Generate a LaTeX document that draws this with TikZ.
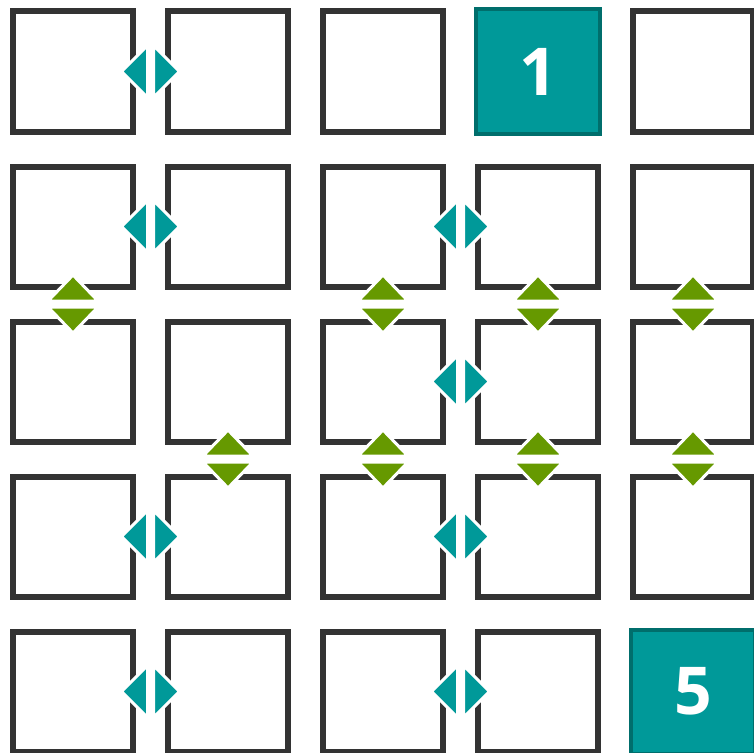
\documentclass[tikz,border=0pt]{standalone}
\usepackage{fontspec}
\newfontfamily\numfont{Open Sans}
\usetikzlibrary{calc}
\definecolor{boxgray}{HTML}{333333}
\definecolor{tealfill}{HTML}{009999}
\definecolor{tealdark}{HTML}{006E6C}
\definecolor{greenarrow}{HTML}{669900}
\tikzset{
  box/.style={draw=boxgray,line width=6pt,minimum size=120pt,inner sep=0pt,fill=white},
  numbox/.style={draw=tealdark,fill=tealfill,line width=4pt,minimum size=124pt,inner sep=0pt,
    text=white,font=\numfont\bfseries\fontsize{66}{66}\selectfont},
  harr/.style={fill=tealfill,draw=white,line width=3pt,line join=miter},
  varr/.style={fill=greenarrow,draw=white,line width=3pt,line join=miter}
}
\newcommand\hpair[2]{%
  \path (#1.east) -- (#2.west) coordinate[midway] (h#1#2);
  \filldraw[harr] ($(h#1#2)+(-3,-26)$) -- ($(h#1#2)+(-3,26)$) -- ($(h#1#2)+(-29,0)$) -- cycle;
  \filldraw[harr] ($(h#1#2)+(3,-26)$) -- ($(h#1#2)+(3,26)$) -- ($(h#1#2)+(29,0)$) -- cycle;
}
\newcommand\vpair[2]{%
  \path (#1.south) -- (#2.north) coordinate[midway] (v#1#2);
  \filldraw[varr] ($(v#1#2)+(-25,-3)$) -- ($(v#1#2)+(25,-3)$) -- ($(v#1#2)+(0,-29)$) -- cycle;
  \filldraw[varr] ($(v#1#2)+(-25,3)$) -- ($(v#1#2)+(25,3)$) -- ($(v#1#2)+(0,29)$) -- cycle;
}
\begin{document}
\begin{tikzpicture}[x=1pt,y=-1pt]
\useasboundingbox (0,0) rectangle (754,752);
\begin{scope}
\clip (0,0) rectangle (754,752);
\foreach \r in {0,...,4}{
  \foreach \c in {0,...,4}{
    \ifnum\r\c=3 \else\ifnum\r\c=44 \else
      \node[box] (b\r\c) at ({73+155*\c},{71.5+155*\r}) {};
    \fi\fi
  }
}
\node[numbox] (b03) at ({73+155*3},{71.5}) {1};
\node[numbox] (b44) at ({73+155*4},{71.5+155*4}) {5};
\end{scope}
% horizontal (teal) pairs
\hpair{b00}{b01}
\hpair{b10}{b11}
\hpair{b12}{b13}
\hpair{b22}{b23}
\hpair{b30}{b31}
\hpair{b32}{b33}
\hpair{b40}{b41}
\hpair{b42}{b43}
% vertical (green) pairs
\vpair{b10}{b20}
\vpair{b12}{b22}
\vpair{b13}{b23}
\vpair{b14}{b24}
\vpair{b21}{b31}
\vpair{b22}{b32}
\vpair{b23}{b33}
\vpair{b24}{b34}
\end{tikzpicture}
\end{document}
